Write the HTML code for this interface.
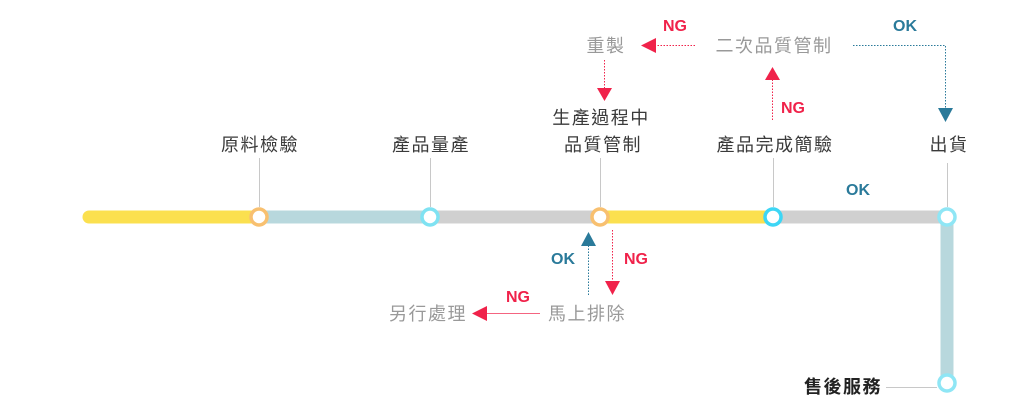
<!DOCTYPE html>
<html><head><meta charset="utf-8"><style>
html,body{margin:0;padding:0;background:#fff;}
svg{display:block}
text{font-family:"Liberation Sans","Noto Sans CJK TC",sans-serif;}
.lb{font-size:18px;fill:#3a3a3a;letter-spacing:1.5px}
.gr{font-size:18px;fill:#999;letter-spacing:1.5px}
.ng{font-size:16px;font-weight:bold;fill:#f0224a}
.ok{font-size:16px;font-weight:bold;fill:#2a7a9a}
</style></head><body>
<svg width="1032" height="412" viewBox="0 0 1032 412" xmlns="http://www.w3.org/2000/svg">
<line x1="89" y1="217" x2="259" y2="217" stroke="#fbe04f" stroke-width="13" stroke-linecap="round"/>
<line x1="259" y1="217" x2="430" y2="217" stroke="#b8d8dd" stroke-width="13"/>
<line x1="430" y1="217" x2="600" y2="217" stroke="#d0d0d0" stroke-width="13"/>
<line x1="600" y1="217" x2="773" y2="217" stroke="#fbe04f" stroke-width="13"/>
<line x1="773" y1="217" x2="947" y2="217" stroke="#d0d0d0" stroke-width="13"/>
<line x1="947" y1="217" x2="947" y2="383" stroke="#b8d8dd" stroke-width="13"/>
<g stroke="#c8c8c8" stroke-width="1">
<line x1="259.5" y1="158" x2="259.5" y2="207"/>
<line x1="430.5" y1="158" x2="430.5" y2="207"/>
<line x1="600.5" y1="158" x2="600.5" y2="207"/>
<line x1="773.5" y1="158" x2="773.5" y2="207"/>
<line x1="947.5" y1="163" x2="947.5" y2="207"/>
<line x1="886" y1="387.5" x2="937" y2="387.5"/>
</g>
<g fill="#fff" stroke-width="3.5">
<circle cx="259" cy="217" r="8" stroke="#f8c070"/>
<circle cx="430" cy="217" r="8" stroke="#7fe2f2"/>
<circle cx="600" cy="217" r="8" stroke="#f8c070"/>
<circle cx="773" cy="217" r="8" stroke="#3dd6f5"/>
<circle cx="947" cy="217" r="8" stroke="#8fe6f5"/>
<circle cx="947" cy="383" r="8" stroke="#8fe6f5"/>
</g>
<text class="lb" x="260" y="151" text-anchor="middle">原料檢驗</text>
<text class="lb" x="431" y="151" text-anchor="middle">產品量產</text>
<text class="lb" x="601" y="124" text-anchor="middle">生產過程中</text>
<text class="lb" x="603" y="151" text-anchor="middle">品質管制</text>
<text class="lb" x="775" y="151" text-anchor="middle">產品完成簡驗</text>
<text class="lb" x="949" y="151" text-anchor="middle">出貨</text>
<text class="lb" x="843" y="393" text-anchor="middle" style="font-weight:bold;fill:#222">售後服務</text>
<text class="gr" x="606" y="52" text-anchor="middle">重製</text>
<text class="gr" x="774" y="52" text-anchor="middle">二次品質管制</text>
<text class="gr" x="587" y="320" text-anchor="middle">馬上排除</text>
<text class="gr" x="428" y="320" text-anchor="middle">另行處理</text>
<line x1="695" y1="45.5" x2="655" y2="45.5" stroke="#f0224a" stroke-dasharray="1.5,1.5"/>
<polygon points="641,45.5 656,38 656,53" fill="#f0224a"/>
<text class="ng" x="675" y="31" text-anchor="middle">NG</text>
<line x1="604.5" y1="60" x2="604.5" y2="88" stroke="#f0224a" stroke-dasharray="1.5,1.5"/>
<polygon points="604.5,101 597,88 612,88" fill="#f0224a"/>
<line x1="772.5" y1="120" x2="772.5" y2="80" stroke="#f0224a" stroke-dasharray="1.5,1.5"/>
<polygon points="772.5,67 765,80 780,80" fill="#f0224a"/>
<text class="ng" x="793" y="113" text-anchor="middle">NG</text>
<polyline points="853,45.5 945.5,45.5 945.5,108" fill="none" stroke="#2a7a9a" stroke-dasharray="1.5,1.5"/>
<polygon points="945.5,122 938,108 953,108" fill="#2a7a9a"/>
<text class="ok" x="905" y="31" text-anchor="middle">OK</text>
<text class="ok" x="858" y="195" text-anchor="middle">OK</text>
<line x1="588.5" y1="295" x2="588.5" y2="246" stroke="#2a7a9a" stroke-dasharray="1.5,1.5"/>
<polygon points="588.5,232 581,246 596,246" fill="#2a7a9a"/>
<text class="ok" x="563" y="264" text-anchor="middle">OK</text>
<line x1="612.5" y1="230" x2="612.5" y2="281" stroke="#f0224a" stroke-dasharray="1.5,1.5"/>
<polygon points="612.5,295 605,281 620,281" fill="#f0224a"/>
<text class="ng" x="636" y="264" text-anchor="middle">NG</text>
<line x1="540" y1="313.5" x2="486" y2="313.5" stroke="#f0224a" stroke-opacity="0.7"/>
<polygon points="472,313.5 487,306 487,321" fill="#f0224a"/>
<text class="ng" x="518" y="302" text-anchor="middle">NG</text>
</svg>
</body></html>
